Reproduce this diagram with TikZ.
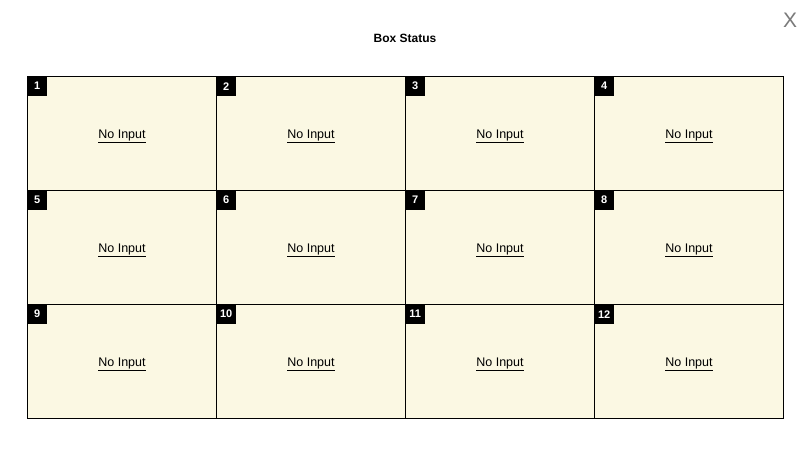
\documentclass[tikz,border=0pt]{standalone}
\usepackage{fontspec}
\setmainfont{Liberation Sans}
\definecolor{cellfill}{HTML}{FBF8E3}
\definecolor{closegray}{HTML}{7A7A7A}
\tikzset{
  cellbox/.style={draw=black, line width=1pt, fill=cellfill, minimum width=189pt, minimum height=114pt, inner sep=0pt, anchor=north west},
  numbox/.style={fill=black, text=white, font=\fontsize{11}{12}\selectfont\bfseries, minimum height=19pt, minimum width=19pt, inner sep=2pt, anchor=north west},
  celltext/.style={font=\fontsize{12.5}{14}\selectfont, text=black, inner sep=0pt},
  uline/.style={line width=0.9pt, black},
}
\begin{document}
\begin{tikzpicture}[x=1pt,y=-1pt]
\useasboundingbox (0,0) rectangle (810,453);
\fill[white] (0,0) rectangle (810,453);
\node[font=\fontsize{12}{14}\selectfont\bfseries] (title) at (405,38) {Box Status};
\node[font=\fontsize{21}{22}\selectfont, text=closegray] (close) at (790,20) {X};
\foreach \r in {0,1,2} {
  \foreach \c in {0,1,2,3} {
    \pgfmathtruncatemacro{\n}{\r*4+\c+1}
    \node[cellbox] (c\n) at ({27+189*\c},{76+114*\r}) {};
    \node[numbox] (l\n) at ({27.5+189*\c},{76.5+114*\r}) {\n};
    \node[celltext, anchor=base] (t\n) at ([yshift=-5pt]c\n.center) {No Input};
    \draw[uline] ([yshift=-3.5pt]t\n.base west) -- ([yshift=-3.5pt]t\n.base east);
  }
}
\end{tikzpicture}
\end{document}
